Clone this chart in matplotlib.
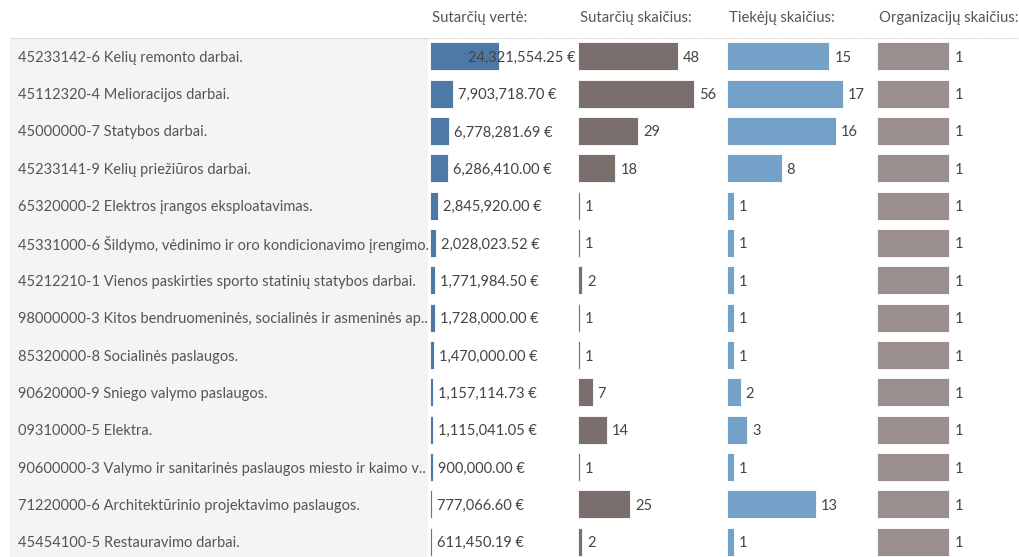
import matplotlib
matplotlib.use("Agg")
import matplotlib.pyplot as plt
from matplotlib.patches import Rectangle
from matplotlib.lines import Line2D

plt.rcParams.update({"font.family": ["Lato", "DejaVu Sans"], "font.size": 10.5})

categories = [
    "45233142-6 Kelių remonto darbai.",
    "45112320-4 Melioracijos darbai.",
    "45000000-7 Statybos darbai.",
    "45233141-9 Kelių priežiūros darbai.",
    "65320000-2 Elektros įrangos eksploatavimas.",
    "45331000-6 Šildymo, vėdinimo ir oro kondicionavimo įrengimo..",
    "45212210-1 Vienos paskirties sporto statinių statybos darbai.",
    "98000000-3 Kitos bendruomeninės, socialinės ir asmeninės ap..",
    "85320000-8 Socialinės paslaugos.",
    "90620000-9 Sniego valymo paslaugos.",
    "09310000-5 Elektra.",
    "90600000-3 Valymo ir sanitarinės paslaugos miesto ir kaimo v..",
    "71220000-6 Architektūrinio projektavimo paslaugos.",
    "45454100-5 Restauravimo darbai.",
]
contract_value = [24321554.25, 7903718.70, 6778281.69, 6286410.00, 2845920.00,
                  2028023.52, 1771984.50, 1728000.00, 1470000.00, 1157114.73,
                  1115041.05, 900000.00, 777066.60, 611450.19]
contract_count = [48, 56, 29, 18, 1, 1, 2, 1, 1, 7, 14, 1, 25, 2]
supplier_count = [15, 17, 16, 8, 1, 1, 1, 1, 1, 2, 3, 1, 13, 1]
org_count = [1] * 14

headers = ["Sutarčių vertė:", "Sutarčių skaičius:", "Tiekėjų skaičius:", "Organizacijų skaičius:"]

W, H = 1019, 557
fig = plt.figure(figsize=(W / 100, H / 100), dpi=100)
fig.patch.set_facecolor("white")

top_px, bot_px = 38, 557
row0, pitch = 56.3, 37.34
ylim = ((bot_px - row0) / pitch, (top_px - row0) / pitch)

def px_axes(x0, x1):
    return fig.add_axes([x0 / W, 1 - bot_px / H, (x1 - x0) / W, (bot_px - top_px) / H])

# row label panel
lab = px_axes(10, 428)
lab.set_xlim(0, 1); lab.set_ylim(*ylim)
lab.axis("off")
lab.add_patch(Rectangle((0, ylim[1]), 1, ylim[0] - ylim[1], color="#f4f4f4", zorder=0))
for i, c in enumerate(categories):
    lab.text(8 / 418, i, c, va="center_baseline", ha="left", color="#555555", fontsize=10.5)

cols = [
    (contract_value, 430, 577, 51.6e6, "#4e79a7", lambda v: f"{v:,.2f} €"),
    (contract_count, 578, 725, 70.9, "#7a6f6c", lambda v: f"{v}"),
    (supplier_count, 727, 875, 21.7, "#74a1c8", lambda v: f"{v}"),
    (org_count, 877, 1019, 1.96, "#9a8f8c", lambda v: f"{v}"),
]

fig.canvas.draw()
renderer = fig.canvas.get_renderer()
for k, (vals, x0, x1, xmax, color, fmt) in enumerate(cols):
    ax = px_axes(x0, x1)
    ax.set_xlim(0, xmax); ax.set_ylim(*ylim)
    ax.barh(range(len(vals)), vals, height=0.75, color=color, edgecolor="white", linewidth=0.6)
    ax.axis("off")
    upp = xmax / (x1 - x0)  # data units per pixel
    for i, v in enumerate(vals):
        t = ax.text(v + 5 * upp, i, fmt(v), va="center_baseline", ha="left", color="#444444", fontsize=10.5)
        bb = t.get_window_extent(renderer)
        if bb.x1 > x1:
            t.set_x(xmax - 1 * upp); t.set_ha("right")
    fig.text(x0 / W + 2 / W, 1 - 18 / H, headers[k], va="center", ha="left", color="#555555", fontsize=10.7)

fig.add_artist(Line2D([10 / W, 1], [1 - 38 / H] * 2, color="#c8c8c8", lw=0.8, ls=(0, (1, 1))))

fig.savefig("out.png", dpi=100)
